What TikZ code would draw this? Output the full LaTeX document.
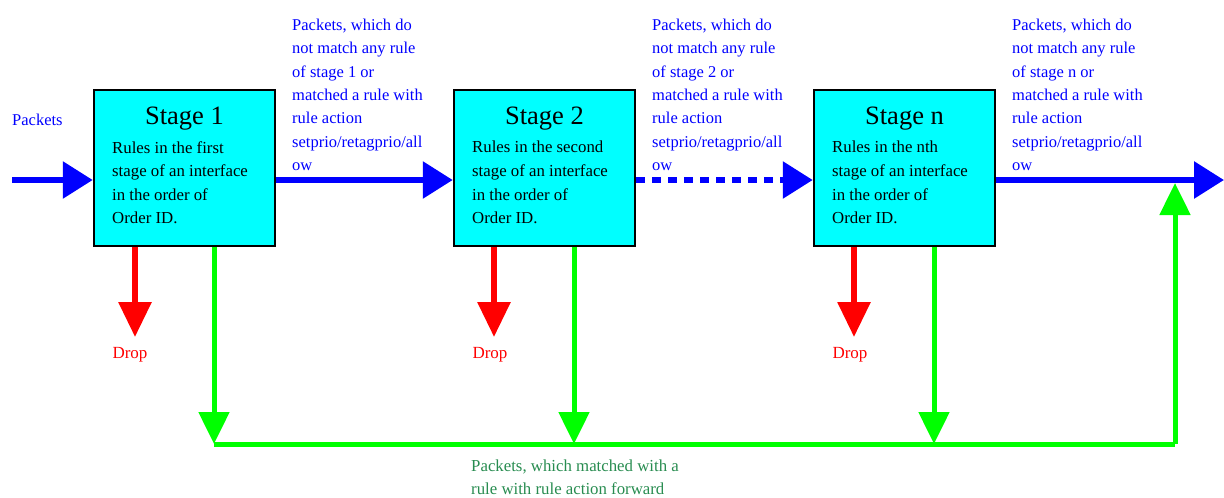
\documentclass[tikz,border=0pt]{standalone}
\usepackage{fontspec}
\setmainfont{Liberation Serif}
\usetikzlibrary{arrows.meta}
\definecolor{cyanfill}{RGB}{0,255,255}
\definecolor{pblue}{RGB}{0,0,255}
\definecolor{pred}{RGB}{255,0,0}
\definecolor{pgreen}{RGB}{0,255,0}
\definecolor{tgreen}{RGB}{40,140,80}
\tikzset{
  stagebox/.style={draw=black, line width=2.5pt, fill=cyanfill, minimum width=181pt, minimum height=156pt, inner sep=0pt},
  title/.style={font=\fontsize{26.5}{30}\selectfont, inner sep=0pt},
  body/.style={font=\fontsize{16.8}{23.6}\selectfont, align=left, inner sep=0pt, anchor=north west},
  bluetext/.style={font=\fontsize{16.5}{23.3}\selectfont, align=left, inner sep=0pt, anchor=north west, text=pblue},
  droptext/.style={font=\fontsize{17}{20}\selectfont, inner sep=0pt, text=pred},
  greentext/.style={font=\fontsize{16.8}{23}\selectfont, align=left, inner sep=0pt, anchor=north west, text=tgreen},
  bluearrow/.style={draw=pblue, line width=6pt, -{Triangle[length=30pt,width=36pt]}},
  redarrow/.style={draw=pred, line width=6pt, -{Triangle[length=35pt,width=32pt]}},
  greenarrow/.style={draw=pgreen, line width=5pt, -{Triangle[length=32pt,width=30pt]}},
  greenline/.style={draw=pgreen, line width=5pt},
}
\begin{document}
\begin{tikzpicture}[x=1pt,y=-1pt]
\useasboundingbox (0,0) rectangle (1224,498);
% boxes
\node[stagebox] (s1) at (184.5,168) {};
\node[stagebox] (s2) at (544.5,168) {};
\node[stagebox] (s3) at (904.5,168) {};
\node[title] (t1) at (184.5,119) {Stage 1};
\node[title] (t2) at (544.5,119) {Stage 2};
\node[title] (t3) at (904.5,119) {Stage n};
\node[body] (b1) at (112,141) {Rules in the first\\stage of an interface\\in the order of\\Order ID.};
\node[body] (b2) at (472,141) {Rules in the second\\stage of an interface\\in the order of\\Order ID.};
\node[body] (b3) at (832,141) {Rules in the nth\\stage of an interface\\in the order of\\Order ID.};
% blue texts
\node[bluetext, anchor=west] (pk) at (12,120) {Packets};
\node[bluetext] (l1) at (292,19) {Packets, which do\\not match any rule\\of stage 1 or\\matched a rule with\\rule action\\setprio/retagprio/all\\ow};
\node[bluetext] (l2) at (652,19) {Packets, which do\\not match any rule\\of stage 2 or\\matched a rule with\\rule action\\setprio/retagprio/all\\ow};
\node[bluetext] (l3) at (1012,19) {Packets, which do\\not match any rule\\of stage n or\\matched a rule with\\rule action\\setprio/retagprio/all\\ow};
% coordinates
\coordinate (in) at (12,180);
\coordinate (out) at (1224,180);
\coordinate (d1) at (135,337);
\coordinate (d2) at (494,337);
\coordinate (d3) at (854,337);
\coordinate (g1) at (214,444);
\coordinate (g2) at (574,444);
\coordinate (g3) at (934,444);
\coordinate (gc) at (1175,444);
\coordinate (gt) at (1175,183);
% drop
\node[droptext] (dr1) at (130,355) {Drop};
\node[droptext] (dr2) at (490,355) {Drop};
\node[droptext] (dr3) at (850,355) {Drop};
% green arrows
\draw[greenline] (g1) -- (gc);
\draw[greenarrow] (s1.south -| g1) -- (g1);
\draw[greenarrow] (s2.south -| g2) -- (g2);
\draw[greenarrow] (s3.south -| g3) -- (g3);
\draw[greenarrow] (gc) -- (gt);
% red arrows
\draw[redarrow] (s1.south -| d1) -- (d1);
\draw[redarrow] (s2.south -| d2) -- (d2);
\draw[redarrow] (s3.south -| d3) -- (d3);
% blue arrows
\draw[bluearrow] (in) -- (in -| s1.west);
\draw[bluearrow] (in -| s1.east) -- (in -| s2.west);
\draw[bluearrow, dash pattern=on 9pt off 7pt] (in -| s2.east) -- (in -| s3.west);
\draw[bluearrow] (in -| s3.east) -- (out);
% green text
\node[greentext] (gl) at (471,460) {Packets, which matched with a\\rule with rule action forward};
\end{tikzpicture}
\end{document}
